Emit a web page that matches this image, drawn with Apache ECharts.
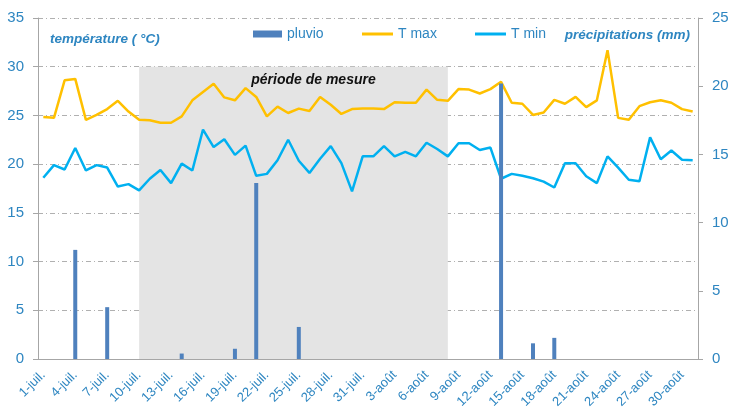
<!DOCTYPE html>
<html>
<head>
<meta charset="utf-8">
<script src="https://cdn.jsdelivr.net/npm/echarts@6/dist/echarts.min.js"></script>
<style>html,body{margin:0;padding:0;background:#fff}#c{width:733px;height:414px}</style>
</head>
<body>
<div id="c"></div>
<script>
const days = [
 '1-juil.','2-juil.','3-juil.','4-juil.','5-juil.','6-juil.','7-juil.','8-juil.','9-juil.','10-juil.',
 '11-juil.','12-juil.','13-juil.','14-juil.','15-juil.','16-juil.','17-juil.','18-juil.','19-juil.','20-juil.',
 '21-juil.','22-juil.','23-juil.','24-juil.','25-juil.','26-juil.','27-juil.','28-juil.','29-juil.','30-juil.','31-juil.',
 '1-août','2-août','3-août','4-août','5-août','6-août','7-août','8-août','9-août','10-août',
 '11-août','12-août','13-août','14-août','15-août','16-août','17-août','18-août','19-août','20-août',
 '21-août','22-août','23-août','24-août','25-août','26-août','27-août','28-août','29-août','30-août','31-août'
];
const tMax = [
 24.85,24.75,28.6,28.75,24.55,25.05,25.65,26.5,25.4,24.55,
 24.5,24.25,24.25,24.9,26.55,27.4,28.25,26.85,26.55,27.8,
 26.9,24.9,25.9,25.25,25.7,25.45,26.9,26.1,25.15,25.65,25.7,
 25.7,25.65,26.35,26.3,26.3,27.65,26.6,26.5,27.7,27.65,
 27.25,27.7,28.45,26.3,26.2,25.05,25.3,26.6,26.2,26.9,
 25.85,26.55,31.7,24.75,24.55,25.95,26.35,26.55,26.3,25.65,25.4
];
const tMin = [
 18.6,19.9,19.45,21.65,19.35,19.9,19.65,17.7,17.95,17.3,
 18.5,19.4,18.05,20.05,19.35,23.55,21.75,22.55,20.95,21.9,
 18.8,19.0,20.4,22.5,20.35,19.1,20.55,21.85,20.1,17.2,20.8,
 20.8,21.85,20.8,21.25,20.8,22.2,21.55,20.8,22.15,22.15,
 21.45,21.7,18.5,19.0,18.8,18.55,18.2,17.6,20.1,20.1,
 18.75,18.05,20.8,19.65,18.4,18.25,22.75,20.5,21.4,20.45,20.4
];
const pluvio = [
 0,0,0,8.0,0,0,3.8,0,0,0,
 0,0,0,0.4,0,0,0,0,0.75,0,
 12.9,0,0,0,2.35,0,0,0,0,0,0,
 0,0,0,0,0,0,0,0,0,0,
 0,0,20.2,0,0,1.15,0,1.55,0,0,
 0,0,0,0,0,0,0,0,0,0,0
];
const periodStart = '10-juil.';
const periodEnd = '8-août';
const leftTicks = {min:0,max:35,step:5};
const rightTicks = {min:0,max:25,step:5};

const blue = '#2e86c1';
const font = 'Liberation Sans';
const chart = echarts.init(document.getElementById('c'));
const legendBase = {
  top: 27, itemGap: 4, padding: 0,
  textStyle:{color:blue,fontSize:14,fontFamily:font}
};
chart.setOption({
  animation:false,
  textStyle:{fontFamily:font},
  grid:{left:38,right:35,top:18,bottom:55,containLabel:false},
  title:[
    {text:'température ( °C)',left:45,top:27,textStyle:{color:blue,fontSize:13.5,fontStyle:'italic',fontWeight:'bold',fontFamily:font}},
    {text:'précipitations (mm)',right:38,top:23,textStyle:{color:blue,fontSize:13.5,fontStyle:'italic',fontWeight:'bold',fontFamily:font}}
  ],
  legend:[
    Object.assign({},legendBase,{left:253,data:[{name:'pluvio',icon:'rect'}],itemWidth:29,itemHeight:7}),
    Object.assign({},legendBase,{left:362,data:[{name:'T max',icon:'rect'}],itemWidth:31,itemHeight:3}),
    Object.assign({},legendBase,{left:475,data:[{name:'T min',icon:'rect'}],itemWidth:31,itemHeight:3})
  ],
  xAxis:{
    type:'category',data:days,boundaryGap:true,
    axisLine:{lineStyle:{color:'#a6a6a6',width:1}},
    axisTick:{interval:2,length:5,lineStyle:{color:'#a6a6a6'}},
    axisLabel:{interval:2,rotate:45,color:blue,fontSize:13,margin:14,fontFamily:font}
  },
  yAxis:[
    {type:'value',min:leftTicks.min,max:leftTicks.max,interval:leftTicks.step,
     axisLine:{show:true,lineStyle:{color:'#a6a6a6'}},
     axisTick:{show:true,length:5,lineStyle:{color:'#a6a6a6'}},
     axisLabel:{color:blue,fontSize:15,margin:14,fontFamily:font},
     splitLine:{show:true,lineStyle:{color:'#b0b0b0',type:[5,3,1,3],width:1}}},
    {type:'value',min:rightTicks.min,max:rightTicks.max,interval:rightTicks.step,position:'right',
     axisLine:{show:true,lineStyle:{color:'#a6a6a6'}},
     axisTick:{show:true,length:5,lineStyle:{color:'#a6a6a6'}},
     axisLabel:{color:blue,fontSize:15,margin:14,fontFamily:font},
     splitLine:{show:false}}
  ],
  series:[
    {name:'période',type:'line',data:[],z:-1,silent:true,
     markArea:{silent:true,itemStyle:{color:'#e4e4e4'},
       label:{show:true,position:'insideTop',distance:6,offset:[20,0],color:'#111',fontSize:14,fontStyle:'italic',fontWeight:'bold',fontFamily:font,formatter:'période de mesure'},
       data:[[{xAxis:periodStart,yAxis:0},{xAxis:periodEnd,yAxis:30}]]}},
    {name:'T max',type:'line',data:tMax,yAxisIndex:0,symbol:'none',z:3,
     lineStyle:{color:'#ffc000',width:2.5},itemStyle:{color:'#ffc000'}},
    {name:'T min',type:'line',data:tMin,yAxisIndex:0,symbol:'none',z:3,
     lineStyle:{color:'#00b0f0',width:2.5},itemStyle:{color:'#00b0f0'}},
    {name:'pluvio',type:'bar',data:pluvio,yAxisIndex:1,barWidth:4,z:4,
     itemStyle:{color:'#4f81bd'}}
  ]
});
</script>
</body>
</html>
